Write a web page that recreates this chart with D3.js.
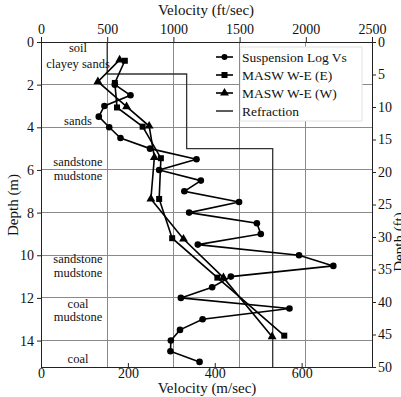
<!DOCTYPE html>
<html>
<head>
<meta charset="utf-8">
<script src="https://cdn.jsdelivr.net/npm/d3@7"></script>
<style>
  html, body { margin: 0; padding: 0; background: #fff; }
  svg { display: block; }
</style>
</head>
<body>
<svg id="chart" width="401" height="397"></svg>
<script>
// ---- data ----
const suspensionDepth = [2.0,2.5,3.0,3.5,4.0,4.5,5.0,5.5,6.0,6.5,7.0,7.5,8.0,8.5,9.0,9.5,10.0,10.5,11.0,11.5,12.0,12.5,13.0,13.5,14.0,14.5,15.0];
const suspensionVs    = [170,206,146,133,157,183,251,358,272,368,330,456,341,497,506,361,594,673,437,394,322,572,372,320,299,298,365];

const maswEDepth = [0.88,1.92,3.07,3.97,5.45,7.36,9.20,11.05,13.77];
const maswEVs    = [193,170,175,234,276,272,302,406,560];

const maswWDepth = [0.84,1.86,3.03,3.94,5.41,7.36,9.24,11.05,13.82];
const maswWVs    = [181,131,197,249,261,253,328,420,532];

const refractionDepth = [0, 1.5, 1.5, 5.0, 5.0, 15.24];
const refractionFt    = [500, 500, 1100, 1100, 1750, 1750];

const layerNames = ["soil","clayey sands","sands","sandstone","mudstone","sandstone","mudstone","coal","mudstone","coal"];
const layerDepth = [0.45,1.2,3.9,5.82,6.47,10.38,11.03,12.45,13.1,15.05];

const ftTicks = [0,500,1000,1500,2000,2500];
const msTicks = [0,200,400,600];
const depthMTicks = [0,2,4,6,8,10,12,14];
const depthFtTicks = [0,5,10,15,20,25,30,35,40,45,50];

const legendNames = ["Suspension Log Vs","MASW W-E (E)","MASW W-E (W)","Refraction"];

// ---- scales ----
const L = 41, R = 372, T = 42, B = 367;
const xMs = d3.scaleLinear().domain([0, 762]).range([L, R]);
const xFt = d3.scaleLinear().domain([0, 2500]).range([L, R]);
const yM  = d3.scaleLinear().domain([0, 15.24]).range([T, B]);
const yFt = d3.scaleLinear().domain([0, 50]).range([T, B]);

const FONT = '"Liberation Serif", Tinos, "Times New Roman", Times, "Nimbus Roman", "DejaVu Serif", serif';
const svg = d3.select("#chart").style("font-family", FONT);
const FS = 13.5;
const gridColor = "#8a8a8a";

// grid
svg.append("g").selectAll("line").data([500,1000,1500,2000]).join("line")
  .attr("x1", d => xFt(d)).attr("x2", d => xFt(d)).attr("y1", T).attr("y2", B)
  .attr("stroke", gridColor).attr("stroke-width", 1).attr("shape-rendering","crispEdges");
svg.append("g").selectAll("line").data([2,4,6,8,10,12,14]).join("line")
  .attr("x1", L).attr("x2", R).attr("y1", d => yM(d)).attr("y2", d => yM(d))
  .attr("stroke", gridColor).attr("stroke-width", 1).attr("shape-rendering","crispEdges");

// legend background
svg.append("rect").attr("x", 240).attr("y", 47).attr("width", 122).attr("height", 74)
  .attr("fill", "#fff").attr("stroke", "#e2e2e2").attr("stroke-width", 1);
svg.append("line").attr("x1", xFt(1500)).attr("x2", xFt(1500)).attr("y1", 47).attr("y2", 121)
  .attr("stroke", gridColor).attr("shape-rendering","crispEdges");

// refraction
const refr = refractionDepth.map((d,i) => [xFt(refractionFt[i]), yM(d)]);
svg.append("path").attr("d", d3.line()(refr)).attr("fill","none")
  .attr("stroke", "#333").attr("stroke-width", 1.3);

// series
const line = d3.line();
function series(vs, ds) { return vs.map((v,i) => [xMs(v), yM(ds[i])]); }
const susp = series(suspensionVs, suspensionDepth);
const mE = series(maswEVs, maswEDepth);
const mW = series(maswWVs, maswWDepth);

[susp, mE, mW].forEach(pts => {
  svg.append("path").attr("d", line(pts)).attr("fill","none")
    .attr("stroke", "#000").attr("stroke-width", 1.6);
});
svg.append("g").selectAll("circle").data(susp).join("circle")
  .attr("cx", d => d[0]).attr("cy", d => d[1]).attr("r", 3.3).attr("fill", "#000");
svg.append("g").selectAll("rect").data(mE).join("rect")
  .attr("x", d => d[0]-3).attr("y", d => d[1]-3).attr("width", 6).attr("height", 6).attr("fill", "#000");
const tri = d3.symbol().type(d3.symbolTriangle).size(34);
svg.append("g").selectAll("path").data(mW).join("path")
  .attr("transform", d => `translate(${d[0]},${d[1]})`).attr("d", tri()).attr("fill", "#000");

// frame
svg.append("rect").attr("x", L).attr("y", T).attr("width", R-L).attr("height", B-T)
  .attr("fill","none").attr("stroke","#222").attr("stroke-width",1).attr("shape-rendering","crispEdges");

// axes
function styleAxis(g) {
  g.attr("font-family", null).attr("font-size", null);
  g.select(".domain").remove();
  g.selectAll(".tick line").attr("stroke", "#222");
  g.selectAll(".tick text").style("font-family", FONT).style("font-size", "14px").attr("fill", "#111");
}
svg.append("g").attr("transform", `translate(0,${T})`)
  .call(d3.axisTop(xFt).tickValues(ftTicks).tickSize(5).tickPadding(3).tickFormat(d3.format("d")))
  .call(styleAxis);
svg.append("g").attr("transform", `translate(0,${B})`)
  .call(d3.axisBottom(xMs).tickValues(msTicks).tickSize(-4).tickPadding(1).tickFormat(d3.format("d")))
  .call(styleAxis);
svg.append("g").attr("transform", `translate(${L},0)`)
  .call(d3.axisLeft(yM).tickValues(depthMTicks).tickSize(4).tickPadding(3).tickFormat(d3.format("d")))
  .call(styleAxis);
svg.append("g").attr("transform", `translate(${R},0)`)
  .call(d3.axisRight(yFt).tickValues(depthFtTicks).tickSize(4).tickPadding(2).tickFormat(d3.format("d")))
  .call(styleAxis);

function txt(x, y, s, size, anchor) {
  return svg.append("text").attr("x", x).attr("y", y).attr("text-anchor", anchor || "middle")
    .style("font-family", FONT).style("font-size", size + "px").attr("fill", "#111").text(s);
}

// axis titles
txt(206, 15, "Velocity (ft/sec)", 15);
txt(207, 393, "Velocity (m/sec)", 15);
svg.append("text").attr("transform", "translate(18,205) rotate(-90)").attr("text-anchor","middle")
  .style("font-family", FONT).style("font-size", "15px").attr("fill","#111").text("Depth (m)");
svg.append("text").attr("transform", "translate(404,242) rotate(-90)").attr("text-anchor","middle")
  .style("font-family", FONT).style("font-size", "15px").attr("fill","#111").text("Depth (ft)");

// layer labels
layerNames.forEach((name, i) => txt(78, yM(layerDepth[i]), name, 12.5));

// legend
const legY = [57, 75, 93, 111];
legendNames.forEach((name, i) => {
  const y = legY[i];
  svg.append("line").attr("x1", 216).attr("x2", 233).attr("y1", y).attr("y2", y)
    .attr("stroke", i === 3 ? "#333" : "#000").attr("stroke-width", 1.6);
  if (i === 0) svg.append("circle").attr("cx", 224.5).attr("cy", y).attr("r", 3).attr("fill","#000");
  if (i === 1) svg.append("rect").attr("x", 221.5).attr("y", y-3).attr("width", 6).attr("height", 6).attr("fill","#000");
  if (i === 2) svg.append("path").attr("transform", `translate(224.5,${y})`).attr("d", tri()).attr("fill","#000");
  txt(242, y, name, FS, "start").attr("dy", "0.35em");
});
</script>
</body>
</html>
